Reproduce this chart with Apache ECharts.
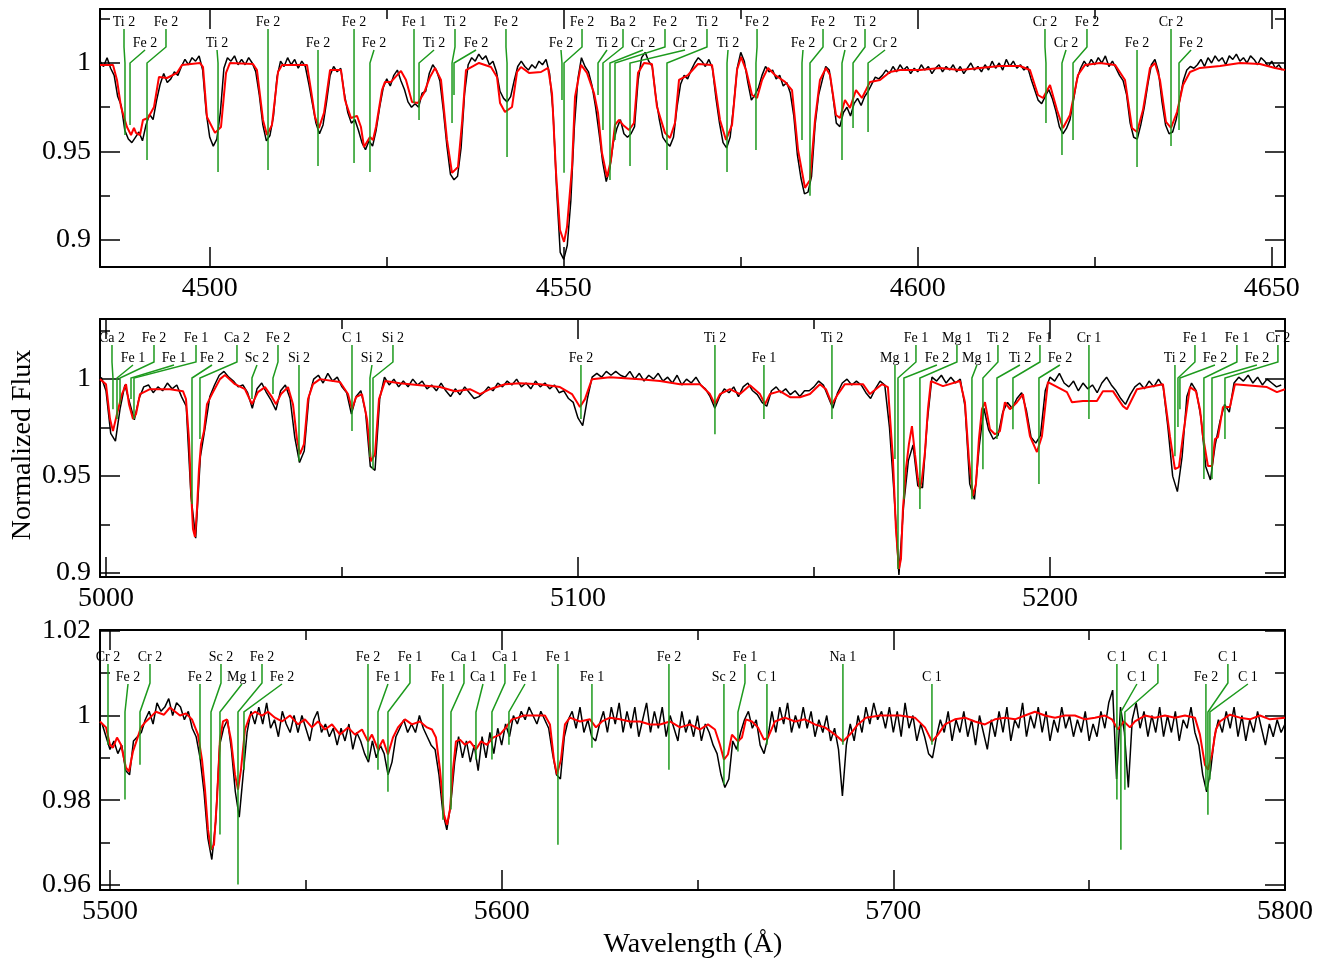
<!DOCTYPE html>
<html><head><meta charset="utf-8">
<script src="https://cdn.jsdelivr.net/npm/echarts@6/dist/echarts.min.js"></script>
<style>html,body{margin:0;padding:0;background:#fff}#chart{width:1329px;height:963px}</style>
</head><body><div id="chart"></div>
<script>
// ---------------- DATA ----------------
const xTitle = 'Wavelength (Å)';
const yTitle = 'Normalized Flux';
const panelWlRange = [[4484.5, 4651.87], [4998.73, 5249.8], [5497.45, 5800]];
const panelFluxRange = [[0.8847, 1.0305], [0.898, 1.031], [0.9588, 1.0202]];

// observed spectra on uniform wavelength grids
const p1ObsStart = 4484.5, p1ObsStep = 0.5;
const p1Obs = [
1.001,0.998,1.003,0.997,0.993,0.981,0.976,0.962,0.957,0.955,
0.958,0.961,0.956,0.965,0.971,0.968,0.979,0.988,0.994,0.989,
0.991,0.995,0.993,0.998,1.002,0.999,1.003,1.001,1.004,0.996,
0.972,0.958,0.953,0.957,0.972,0.997,1.003,1.001,1.004,0.999,
1.002,0.999,1.003,1.000,0.995,0.982,0.965,0.956,0.959,0.970,
0.992,1.001,0.998,1.003,0.999,1.002,0.997,1.001,0.998,0.988,
0.977,0.966,0.960,0.965,0.978,0.993,0.998,0.995,0.997,0.983,
0.972,0.966,0.968,0.962,0.955,0.951,0.956,0.953,0.962,0.975,
0.986,0.991,0.987,0.993,0.996,0.990,0.985,0.978,0.975,0.977,
0.975,0.983,0.984,0.994,0.999,0.996,0.990,0.973,0.953,0.937,
0.934,0.936,0.952,0.983,0.999,1.003,1.001,1.005,1.002,1.004,
0.999,1.001,0.995,0.984,0.980,0.978,0.981,0.990,0.998,1.001,
0.998,0.996,0.999,0.997,1.001,0.999,1.002,0.994,0.972,0.928,
0.893,0.889,0.897,0.922,0.964,0.991,1.003,0.998,0.995,0.987,
0.975,0.960,0.944,0.933,0.940,0.955,0.963,0.968,0.960,0.958,
0.960,0.964,0.990,1.003,1.006,1.001,0.998,0.981,0.968,0.958,
0.955,0.953,0.958,0.975,0.988,0.993,0.991,0.996,1.000,1.003,
1.001,0.998,1.002,0.997,0.980,0.966,0.955,0.952,0.958,0.976,
0.997,1.006,1.001,0.989,0.979,0.982,0.986,0.993,0.998,0.995,
0.996,0.991,0.993,0.987,0.989,0.983,0.970,0.948,0.935,0.926,
0.927,0.936,0.965,0.982,0.990,0.998,0.996,0.982,0.966,0.964,
0.972,0.975,0.970,0.977,0.980,0.976,0.981,0.984,0.988,0.992,
0.991,0.993,0.996,0.994,0.998,0.995,0.999,0.996,0.998,0.994,
0.997,0.995,0.999,0.996,0.998,0.994,0.997,0.999,0.995,0.998,
0.996,0.999,0.995,0.998,0.994,0.997,1.000,0.996,0.998,0.995,
0.999,0.996,1.001,0.997,1.000,0.996,1.002,0.998,1.001,0.997,
0.999,0.996,0.998,0.991,0.985,0.979,0.977,0.981,0.985,0.980,
0.973,0.964,0.960,0.963,0.968,0.979,0.991,0.997,1.001,0.998,
1.002,0.999,1.003,1.000,1.004,0.998,1.001,0.997,0.993,0.990,
0.982,0.966,0.958,0.957,0.965,0.975,0.988,0.999,1.002,0.995,
0.978,0.965,0.960,0.961,0.968,0.979,0.990,0.996,0.998,0.997,
0.999,1.002,0.998,1.003,1.000,1.004,1.001,1.003,0.999,1.004,
1.002,1.005,1.001,1.003,1.000,1.004,1.002,0.999,1.003,1.001,
0.998,1.001,0.997,0.999,0.996
];
const p2ObsStart = 4999, p2ObsStep = 1;
const p2Obs = [
1.001,0.994,0.972,0.968,0.985,0.997,0.988,0.979,0.990,0.996,
0.997,0.993,0.996,0.994,0.998,0.995,0.997,0.991,0.986,0.940,
0.918,0.960,0.975,0.991,0.997,1.002,1.004,1.001,0.999,0.996,
0.997,0.993,0.985,0.995,0.998,0.993,0.989,0.984,0.994,0.997,
0.990,0.970,0.957,0.963,0.991,1.000,1.002,0.998,1.003,0.999,
1.001,0.996,0.993,0.982,0.991,0.994,0.983,0.955,0.953,0.990,
1.001,0.997,1.000,0.996,0.999,0.996,1.000,0.997,0.999,0.995,
0.997,0.994,0.998,0.994,0.991,0.995,0.992,0.996,0.993,0.990,
0.991,0.993,0.996,0.994,0.998,0.996,0.999,0.997,1.000,0.996,
0.998,0.995,0.999,0.996,0.998,0.995,0.997,0.993,0.994,0.990,
0.988,0.980,0.976,0.990,1.001,1.003,1.001,1.004,1.002,1.004,
1.002,1.001,1.004,1.000,1.003,0.999,1.002,1.000,1.003,0.999,
1.001,0.998,1.002,0.997,1.000,0.998,1.001,0.997,0.995,0.991,
0.985,0.991,0.995,0.993,0.996,0.991,0.996,0.998,0.994,0.992,
0.988,0.986,0.994,0.996,0.993,0.995,0.992,0.994,0.991,0.994,
0.994,0.996,0.999,0.997,0.991,0.985,0.993,0.998,1.000,0.997,
0.999,0.997,0.993,0.990,0.995,0.999,0.997,0.975,0.940,0.899,
0.935,0.958,0.966,0.945,0.944,0.978,1.001,0.999,1.002,0.998,
1.001,0.998,1.000,0.986,0.946,0.938,0.965,0.985,0.974,0.969,
0.971,0.983,0.988,0.985,0.990,0.993,0.984,0.970,0.967,0.971,
0.994,1.001,0.999,1.003,0.998,0.996,0.999,0.994,0.998,0.995,
0.997,0.993,0.998,1.001,0.997,0.994,0.990,0.987,0.992,0.996,
0.998,0.995,0.999,0.996,1.000,0.996,0.975,0.950,0.942,0.960,
0.991,0.998,0.994,0.980,0.955,0.948,0.966,0.978,0.987,0.983,
0.998,1.001,0.999,1.002,0.998,1.001,0.997,1.000,0.998,0.996,
0.997
];
const p3ObsStart = 5498, p3ObsStep = 1;
const p3Obs = [
0.998,0.995,0.992,0.994,0.991,0.993,0.987,0.986,0.994,0.995,
0.996,0.999,1.001,0.998,1.003,1.001,1.002,1.004,1.000,1.003,
1.002,0.999,1.001,0.997,0.995,0.990,0.982,0.971,0.966,0.975,
0.993,0.997,0.999,0.992,0.982,0.976,0.986,0.996,1.001,0.998,
1.002,0.998,1.003,0.997,0.999,0.995,1.001,0.998,0.996,1.000,
0.996,1.000,0.997,0.994,0.999,1.001,0.996,0.998,0.995,0.997,
0.993,0.997,0.994,0.998,0.992,0.996,0.994,0.991,0.989,0.994,
0.990,0.993,0.991,0.986,0.989,0.995,0.997,0.999,0.996,0.998,
0.996,1.000,0.997,0.995,0.993,0.992,0.986,0.977,0.973,0.979,
0.989,0.995,0.990,0.994,0.989,0.993,0.987,0.995,0.990,0.996,
0.991,0.997,0.993,0.998,0.995,1.000,0.998,1.001,0.999,1.002,
1.000,0.998,1.001,0.999,0.997,0.991,0.986,0.985,0.995,0.999,
1.001,0.997,1.002,0.996,0.999,0.995,0.994,0.998,1.001,0.996,
1.002,0.998,1.003,0.996,1.001,0.997,1.002,0.995,0.999,1.003,
0.996,1.001,0.997,1.002,0.995,1.000,0.997,0.994,1.001,0.996,
0.999,0.995,1.000,0.994,0.998,0.996,0.993,0.991,0.986,0.983,
0.985,0.994,0.992,0.996,0.999,1.001,0.997,0.999,0.993,0.991,
0.995,1.001,0.996,1.002,0.998,1.003,0.996,1.000,0.997,1.002,
0.997,1.001,0.995,0.999,0.996,1.000,0.994,0.997,0.992,0.981,
0.993,0.998,0.994,1.000,0.996,1.002,0.998,1.003,0.999,1.001,
0.997,1.002,0.996,1.001,0.995,1.003,0.997,1.000,0.994,0.998,
0.995,0.991,0.990,0.995,0.999,0.996,1.001,0.994,0.999,0.996,
1.001,0.995,0.999,0.993,1.000,0.996,0.992,0.999,0.995,1.001,
0.996,1.002,0.994,0.999,0.997,1.003,0.995,1.000,0.997,1.002,
0.996,1.001,0.994,0.999,0.996,1.002,0.997,1.000,0.995,0.999,
0.996,1.001,0.994,0.998,0.995,1.001,0.997,1.003,1.006,0.985,
1.002,0.996,0.983,0.999,1.003,0.997,1.001,0.995,1.000,0.996,
1.002,0.995,1.000,0.996,1.001,0.994,0.999,0.997,1.002,0.996,
0.993,0.986,0.982,0.987,0.995,0.999,0.996,1.001,0.997,1.002,
0.995,1.000,0.994,0.999,0.996,1.001,0.997,0.993,0.998,0.995,
0.999,0.996,0.998
];

// synthetic (model) spectra [wavelength, flux]
const p1Model = [[4484.5,0.9989],[4486.34,0.9989],[4486.9,0.9904],[4487.47,0.9751],[4488.31,0.9638],[4488.88,0.9593],[4489.3,0.9633],[4489.58,0.9605],[4490.15,0.9593],[4490.57,0.9678],[4491.28,0.9689],[4492.13,0.9751],[4492.83,0.9921],[4493.96,0.9915],[4495.38,0.9944],[4496.08,0.9989],[4498.62,1.0],[4499.05,0.9977],[4499.61,0.9695],[4500.74,0.9605],[4501.59,0.9638],[4502.3,0.9944],[4502.86,1.0],[4506.11,0.9994],[4506.67,0.996],[4507.52,0.9678],[4508.09,0.9593],[4508.79,0.965],[4509.64,0.9949],[4510.21,0.9989],[4513.74,0.9989],[4514.3,0.9847],[4514.87,0.9695],[4515.43,0.9633],[4516.14,0.9718],[4516.99,0.996],[4518.54,0.996],[4519.1,0.9791],[4519.95,0.9689],[4520.8,0.9701],[4521.36,0.9638],[4521.79,0.9525],[4522.63,0.9582],[4523.06,0.9565],[4523.48,0.9638],[4524.33,0.9847],[4524.75,0.9893],[4525.6,0.9893],[4527.01,0.9955],[4527.72,0.9904],[4528.57,0.978],[4529.41,0.9774],[4530.26,0.983],[4531.11,0.9921],[4531.82,0.9972],[4532.66,0.9904],[4533.51,0.9565],[4534.22,0.9379],[4535.06,0.9412],[4535.63,0.9661],[4536.19,0.996],[4538.03,1.0],[4539.72,0.9977],[4540.57,0.9921],[4541.0,0.9774],[4541.7,0.9723],[4542.69,0.9751],[4543.4,0.9949],[4543.96,0.9977],[4545.09,0.9944],[4546.79,0.9949],[4547.78,0.9972],[4548.34,0.983],[4548.91,0.9379],[4549.47,0.9056],[4550.04,0.8989],[4550.46,0.9073],[4551.17,0.9412],[4551.59,0.9808],[4552.44,0.9989],[4553.28,0.9944],[4554.27,0.983],[4554.84,0.9718],[4555.4,0.9492],[4556.11,0.9356],[4556.67,0.9452],[4557.24,0.965],[4557.8,0.9678],[4558.37,0.965],[4559.22,0.9621],[4559.92,0.9661],[4560.49,0.9944],[4561.33,1.0],[4562.46,0.9994],[4563.17,0.9751],[4564.3,0.9605],[4565.01,0.9576],[4565.71,0.9661],[4566.28,0.9904],[4567.55,0.9932],[4568.96,0.9994],[4570.94,0.9989],[4572.07,0.9678],[4572.92,0.9565],[4573.77,0.965],[4574.47,0.996],[4575.04,1.0034],[4575.75,0.996],[4576.59,0.9819],[4577.3,0.9802],[4578.01,0.9904],[4578.85,0.9972],[4579.84,0.9932],[4581.25,0.9893],[4582.24,0.9847],[4583.09,0.9508],[4584.07,0.9294],[4584.78,0.9339],[4585.49,0.9678],[4586.19,0.9904],[4587.04,0.9972],[4587.61,0.9932],[4588.45,0.9706],[4589.02,0.9689],[4589.72,0.9791],[4590.43,0.9746],[4591.28,0.9847],[4592.12,0.9802],[4593.26,0.9893],[4594.67,0.9904],[4596.08,0.9949],[4597.49,0.996],[4600.32,0.996],[4603.14,0.9972],[4605.97,0.996],[4608.79,0.9972],[4611.62,0.9983],[4614.44,0.9983],[4615.85,0.996],[4616.98,0.9819],[4617.69,0.9802],[4618.68,0.9876],[4619.67,0.9734],[4620.51,0.9633],[4621.5,0.9706],[4622.63,0.9932],[4623.62,0.9989],[4625.74,1.0],[4627.86,0.9989],[4629.27,0.9904],[4630.26,0.9633],[4630.97,0.961],[4631.81,0.9734],[4632.8,0.9972],[4633.51,1.0],[4634.21,0.9904],[4635.06,0.9667],[4635.77,0.9633],[4636.62,0.9723],[4637.47,0.9876],[4638.45,0.9949],[4639.86,0.9972],[4642.69,0.9983],[4645.51,1.0],[4648.34,0.9994],[4650.46,0.9972],[4651.87,0.996]];
const p2Model = [[4998.73,1.0],[5000.0,0.9974],[5000.85,0.9794],[5001.48,0.9732],[5002.33,0.982],[5003.39,0.9923],[5004.24,0.9974],[5004.87,0.9871],[5005.72,0.9794],[5006.36,0.982],[5007.2,0.9923],[5009.32,0.9948],[5013.56,0.9948],[5016.31,0.9938],[5016.95,0.9897],[5017.58,0.9691],[5018.01,0.9433],[5018.43,0.9227],[5018.86,0.9186],[5019.28,0.933],[5019.7,0.9536],[5020.13,0.9665],[5020.76,0.9732],[5021.4,0.9871],[5022.46,0.9923],[5024.15,1.0],[5025.21,1.0021],[5027.33,0.9974],[5029.45,0.9948],[5030.93,0.9871],[5032.2,0.9933],[5033.69,0.9959],[5035.17,0.9907],[5036.02,0.9871],[5037.08,0.9923],[5038.56,0.9959],[5039.62,0.9871],[5040.47,0.9691],[5041.1,0.9613],[5041.95,0.9665],[5042.8,0.9897],[5043.86,0.9974],[5045.34,1.0],[5049.58,0.9985],[5051.27,0.9923],[5052.12,0.9845],[5052.97,0.9907],[5054.24,0.9923],[5055.3,0.9794],[5056.14,0.9577],[5056.99,0.9613],[5057.84,0.9897],[5059.11,0.999],[5062.29,0.9979],[5066.52,0.9969],[5070.76,0.9959],[5073.94,0.9938],[5077.12,0.9948],[5079.24,0.9923],[5081.35,0.9948],[5084.53,0.9974],[5087.71,0.9979],[5091.95,0.9974],[5096.18,0.9959],[5098.73,0.9923],[5100.42,0.9856],[5101.48,0.9897],[5102.96,1.0],[5106.78,1.001],[5113.13,1.0],[5117.37,0.999],[5121.61,0.9974],[5125.84,0.9974],[5127.96,0.9923],[5129.02,0.9871],[5130.08,0.9923],[5132.2,0.9948],[5134.32,0.9923],[5136.44,0.9969],[5138.56,0.9923],[5139.62,0.9871],[5140.67,0.9923],[5142.79,0.9938],[5144.91,0.9907],[5147.03,0.9907],[5149.15,0.9923],[5151.27,0.9974],[5152.54,0.9948],[5153.81,0.9871],[5155.08,0.9923],[5156.56,0.9974],[5160.38,0.9974],[5161.86,0.9923],[5164.4,0.9974],[5165.67,0.9959],[5166.73,0.9588],[5167.37,0.9227],[5168.0,0.9021],[5168.43,0.9072],[5168.85,0.933],[5169.49,0.9536],[5170.12,0.9665],[5170.76,0.9758],[5171.4,0.9613],[5172.03,0.9485],[5172.45,0.9433],[5172.88,0.9485],[5173.52,0.9624],[5174.15,0.9845],[5174.79,0.999],[5177.33,0.9964],[5180.93,0.999],[5181.99,0.9881],[5182.83,0.9588],[5183.68,0.9397],[5184.32,0.9459],[5184.95,0.9691],[5185.59,0.9845],[5186.23,0.9881],[5187.28,0.9742],[5188.34,0.9716],[5189.4,0.9732],[5190.46,0.9881],[5191.52,0.9845],[5193.0,0.9881],[5194.27,0.9923],[5195.76,0.9706],[5197.24,0.9624],[5198.3,0.9706],[5199.57,0.9985],[5203.6,0.9933],[5204.66,0.9881],[5206.99,0.9887],[5209.95,0.9887],[5211.22,0.9938],[5213.34,0.9938],[5215.46,0.9861],[5216.31,0.9845],[5218.43,0.9948],[5223.94,0.9974],[5225.42,0.9706],[5226.48,0.9536],[5227.33,0.9546],[5228.18,0.9706],[5229.66,0.9959],[5230.93,0.9938],[5231.78,0.9845],[5232.42,0.9706],[5233.48,0.9552],[5234.33,0.9552],[5234.96,0.9691],[5235.59,0.9701],[5236.65,0.9856],[5238.13,0.9856],[5239.19,0.9974],[5245.97,0.9959],[5248.09,0.9933],[5249.79,0.9948]];
const p3Model = [[5497.45,0.9986],[5498.98,0.9972],[5500.0,0.9931],[5500.77,0.9924],[5501.79,0.9948],[5502.81,0.9931],[5504.08,0.9877],[5504.85,0.9868],[5505.87,0.9915],[5506.89,0.9943],[5507.91,0.9972],[5509.19,0.9986],[5510.21,0.9995],[5511.74,1.0009],[5513.79,1.0002],[5515.32,1.0019],[5517.87,1.0],[5519.4,1.0005],[5520.93,0.9991],[5522.47,0.9955],[5523.49,0.9896],[5524.25,0.9825],[5525.02,0.9731],[5525.79,0.9683],[5526.55,0.9695],[5527.32,0.9802],[5528.08,0.9943],[5528.85,0.9986],[5529.87,0.9991],[5530.89,0.9943],[5531.91,0.9861],[5532.68,0.9825],[5533.44,0.9872],[5534.47,0.9967],[5535.74,1.0],[5537.02,1.0009],[5538.81,1.0],[5540.34,1.0009],[5542.12,0.9995],[5543.91,0.9986],[5545.95,1.0],[5548.0,0.9979],[5549.78,0.9991],[5551.57,0.9972],[5553.1,0.9986],[5554.89,0.9967],[5556.68,0.9979],[5558.72,0.9955],[5560.76,0.9972],[5562.55,0.9955],[5564.34,0.9967],[5565.87,0.9939],[5566.89,0.9955],[5568.42,0.992],[5569.7,0.9943],[5570.97,0.9908],[5572.25,0.9948],[5573.53,0.9972],[5575.31,0.9991],[5577.1,0.9979],[5579.14,0.9986],[5580.93,0.9972],[5582.21,0.9967],[5583.23,0.9948],[5584.25,0.9872],[5585.27,0.9766],[5586.04,0.9742],[5586.8,0.9778],[5587.57,0.9872],[5588.33,0.9939],[5589.36,0.9943],[5590.63,0.9931],[5591.91,0.9939],[5593.44,0.992],[5594.72,0.9939],[5596.25,0.9931],[5597.78,0.9948],[5599.57,0.9955],[5601.1,0.9972],[5602.63,0.9991],[5604.16,0.9995],[5605.69,1.0],[5608.5,1.0],[5611.06,1.0],[5612.33,0.9979],[5613.35,0.9896],[5614.12,0.9861],[5615.14,0.9896],[5616.16,0.9979],[5617.44,0.9995],[5619.99,0.9986],[5622.54,0.9991],[5624.08,0.9972],[5625.61,0.9986],[5627.65,0.9995],[5630.2,0.9991],[5632.76,0.9986],[5635.31,0.9986],[5637.86,0.9979],[5640.42,0.9979],[5642.97,0.9986],[5645.52,0.9972],[5648.07,0.9979],[5650.63,0.9967],[5652.67,0.9979],[5654.46,0.9967],[5655.73,0.9931],[5656.75,0.9896],[5657.77,0.9908],[5658.8,0.9955],[5660.33,0.9939],[5661.35,0.9948],[5662.37,0.9991],[5663.9,0.9986],[5665.43,0.9972],[5666.97,0.9943],[5667.99,0.9948],[5669.77,0.9986],[5672.33,0.9995],[5674.88,0.9986],[5677.43,0.9991],[5679.99,0.9979],[5682.54,0.9972],[5685.09,0.9955],[5687.13,0.9939],[5688.92,0.9955],[5690.96,0.9979],[5693.01,0.9995],[5696.58,1.0],[5701.69,1.0],[5705.52,0.9995],[5708.07,0.9972],[5709.86,0.9939],[5711.39,0.9955],[5713.18,0.9979],[5715.73,0.9991],[5718.28,0.9995],[5720.83,0.9986],[5723.39,0.9979],[5725.94,0.9991],[5728.49,0.9995],[5731.05,0.9991],[5733.6,1.0],[5736.15,1.0009],[5738.71,1.0],[5741.26,0.9995],[5743.81,1.0],[5746.36,1.0],[5748.92,0.9991],[5751.47,0.9995],[5754.02,1.0],[5755.81,0.9991],[5757.34,0.9967],[5758.87,0.9986],[5760.41,0.9972],[5761.68,0.9986],[5764.24,1.0],[5766.79,0.9995],[5769.34,1.0],[5771.89,0.9995],[5774.45,1.0],[5777.0,0.9995],[5778.28,0.9955],[5779.55,0.9884],[5780.32,0.9872],[5781.34,0.9908],[5782.36,0.9967],[5783.38,0.9986],[5785.94,1.0002],[5788.49,0.9995],[5791.04,0.9991],[5793.6,1.0],[5796.15,0.9991],[5799.98,0.9995]];

// line identifications: [label, line wavelength, label wavelength, row (0 upper / 1 lower), flux at tick end]
const p1Lines = [
['Ti 2',4488.03,4487.89,0,0.9593],['Fe 2',4488.74,4490.86,1,0.965],['Fe 2',4491.14,4493.82,0,0.9452],
['Ti 2',4501.17,4501.03,1,0.9384],['Fe 2',4508.23,4508.23,0,0.9395],['Fe 2',4515.29,4515.29,1,0.9418],
['Fe 2',4520.38,4520.38,0,0.9435],['Fe 2',4522.63,4523.2,1,0.9384],['Fe 1',4528.85,4528.85,0,0.9774],
['Ti 2',4529.56,4531.68,1,0.9678],['Ti 2',4534.22,4534.64,0,0.9661],['Fe 2',4534.5,4537.61,1,0.9819],
['Fe 2',4541.99,4541.84,0,0.9469],['Fe 2',4549.75,4549.61,1,0.9791],['Fe 2',4550.04,4552.58,0,0.9379],
['Ti 2',4554.84,4556.11,1,0.9819],['Ba 2',4555.54,4558.37,0,0.9621],['Cr 2',4556.53,4561.19,1,0.9339],
['Fe 2',4557.24,4564.3,0,0.9565],['Cr 2',4559.36,4567.13,1,0.9418],['Ti 2',4564.58,4570.23,0,0.9395],
['Ti 2',4573.06,4573.2,1,0.9384],['Fe 2',4577.15,4577.3,0,0.9508],['Fe 2',4583.65,4583.79,1,0.9565],
['Fe 2',4584.78,4586.62,0,0.9249],['Cr 2',4589.3,4589.72,1,0.9452],['Ti 2',4590.86,4592.55,0,0.9633],
['Cr 2',4592.98,4595.38,1,0.961],['Cr 2',4618.11,4617.97,0,0.9661],['Cr 2',4620.37,4620.94,1,0.948],
['Fe 2',4621.93,4623.9,0,0.9565],['Fe 2',4630.97,4630.97,1,0.9412],['Cr 2',4635.77,4635.77,0,0.9531],
['Fe 2',4636.9,4638.6,1,0.9621]
];
const p2Lines = [
['Ca 2',5001.48,5001.27,0,0.9845],['Fe 1',5002.33,5005.72,1,0.9794],['Fe 2',5002.97,5010.17,0,0.9871],
['Fe 1',5005.3,5014.41,1,0.9897],['Fe 1',5005.93,5019.07,0,0.9794],['Fe 2',5018.22,5022.46,1,0.9356],
['Ca 2',5019.91,5027.75,0,0.9691],['Sc 2',5030.93,5031.99,1,0.9897],['Fe 2',5035.38,5036.44,0,0.9923],
['Si 2',5040.89,5040.89,1,0.9577],['C 1',5052.12,5052.12,0,0.9732],['Si 2',5055.93,5056.35,1,0.9598],
['Si 2',5056.57,5060.8,0,0.9536],['Fe 2',5100.63,5100.63,1,0.9794],['Ti 2',5129.02,5129.02,0,0.9716],
['Fe 1',5139.4,5139.4,1,0.9794],['Ti 2',5153.81,5153.81,0,0.9794],['Mg 1',5167.16,5167.16,1,0.9588],
['Fe 1',5167.8,5171.61,0,0.9021],['Fe 2',5169.06,5176.05,1,0.9381],['Mg 1',5172.45,5180.29,0,0.933],
['Mg 1',5183.47,5184.53,1,0.9381],['Ti 2',5185.8,5188.98,0,0.9536],['Ti 2',5188.77,5193.64,1,0.9691],
['Fe 1',5192.16,5197.88,0,0.9742],['Fe 2',5197.67,5202.11,1,0.9459],['Cr 1',5208.26,5208.26,0,0.9794],
['Ti 2',5226.48,5226.48,1,0.9603],['Fe 1',5227.12,5230.72,0,0.9753],['Fe 2',5227.54,5234.96,1,0.9845],
['Fe 1',5232.62,5239.61,0,0.9485],['Fe 2',5234.33,5243.85,1,0.9485],['Cr 2',5237.08,5248.3,0,0.9691]
];
const p3Lines = [
['Cr 2',5499.49,5499.49,0,0.9931],['Fe 2',5503.83,5504.6,1,0.9802],['Cr 2',5507.66,5510.21,0,0.9884],
['Fe 2',5522.98,5522.98,1,0.9896],['Sc 2',5525.79,5528.34,0,0.9683],['Mg 1',5528.08,5533.7,1,0.9719],
['Fe 2',5532.68,5538.81,0,0.9601],['Fe 2',5534.21,5543.91,1,0.9872],['Fe 2',5565.87,5565.87,0,0.9896],
['Fe 1',5568.42,5570.97,1,0.9872],['Fe 1',5570.97,5576.59,0,0.982],['Fe 1',5585.01,5585.01,1,0.9754],
['Ca 1',5587.06,5590.38,0,0.9778],['Ca 1',5593.44,5595.23,1,0.9896],['Ca 1',5597.52,5600.84,0,0.9896],
['Fe 1',5601.86,5605.95,1,0.9931],['Fe 1',5614.37,5614.37,0,0.9695],['Fe 1',5623.05,5623.05,1,0.9924],
['Fe 2',5642.71,5642.71,0,0.9872],['Sc 2',5656.75,5656.75,1,0.9837],['Fe 1',5660.33,5662.12,0,0.9915],
['C 1',5667.73,5667.73,1,0.9931],['Na 1',5687.13,5687.13,0,0.9931],['C 1',5709.86,5709.86,1,0.9931],
['C 1',5757.08,5757.08,0,0.9802],['C 1',5758.1,5762.19,1,0.9683],['C 1',5759.12,5767.55,0,0.9825],
['Fe 2',5779.81,5779.81,1,0.9825],['C 1',5780.32,5785.42,0,0.9766],['C 1',5780.83,5790.53,1,0.9849]
];

// ---------------- LAYOUT / STYLE ----------------
const FONT = '"Liberation Serif", "Times New Roman", serif';
const grids = [
  {left:100, top:9, width:1185, height:258},
  {left:100, top:319, width:1185, height:258},
  {left:100, top:630, width:1185, height:260}
];
const xSplit = [4,3,3], ySplit = [3,3,3];
const markerLayout = [
  {lab:[13,34], stub:[20,41], kink:38, diag:54},
  {lab:[19,39], stub:[26,46], kink:43, diag:59},
  {lab:[27,47], stub:[34,54], kink:53, diag:82}
];
const GREEN = '#1d9a1d';

const obsSets = [[p1Obs,p1ObsStart,p1ObsStep],[p2Obs,p2ObsStart,p2ObsStep],[p3Obs,p3ObsStart,p3ObsStep]];
const modelSets = [p1Model, p2Model, p3Model];
const lineSets = [p1Lines, p2Lines, p3Lines];

const chart = echarts.init(document.getElementById('chart'), null, {renderer:'canvas'});
const xAxes = [], yAxes = [], series = [];
const tickStyle = {color:'#000', width:1.5};

for (let p = 0; p < 3; p++) {
  const xb = {
    type:'value', gridIndex:p, min:panelWlRange[p][0], max:panelWlRange[p][1], splitNumber:xSplit[p],
    axisLine:{show:true, onZero:false, lineStyle:{color:'#000', width:2}},
    axisTick:{show:true, inside:true, length:20, lineStyle:tickStyle},
    minorTick:{show:true, splitNumber:2, length:10, lineStyle:tickStyle},
    splitLine:{show:false}, minorSplitLine:{show:false}
  };
  xAxes.push(Object.assign({}, xb, {position:'bottom',
    axisLabel:{show:true, color:'#000', fontFamily:FONT, fontSize:28, margin:8,
      showMinLabel:false, showMaxLabel:(p === 2),
      formatter: v => String(Math.round(v))}}));
  xAxes.push(Object.assign({}, xb, {position:'top', axisLabel:{show:false}}));
  const yb = {
    type:'value', gridIndex:p, min:panelFluxRange[p][0], max:panelFluxRange[p][1], splitNumber:ySplit[p],
    axisLine:{show:true, onZero:false, lineStyle:{color:'#000', width:2}},
    axisTick:{show:true, inside:true, length:20, lineStyle:tickStyle},
    minorTick:{show:true, splitNumber:2, length:10, lineStyle:tickStyle},
    splitLine:{show:false}, minorSplitLine:{show:false}
  };
  yAxes.push(Object.assign({}, yb, {position:'left',
    axisLabel:{show:true, color:'#000', fontFamily:FONT, fontSize:28, margin:9,
      showMinLabel:false, showMaxLabel:false,
      formatter: v => String(+(+v).toFixed(3))}}));
  yAxes.push(Object.assign({}, yb, {position:'right', axisLabel:{show:false}}));

  const [vals, st, sp] = obsSets[p];
  series.push({
    type:'line', xAxisIndex:2*p, yAxisIndex:2*p, data: vals.map((v,i) => [st + i*sp, v]),
    symbol:'none', showSymbol:false, clip:true, z:2, silent:true,
    lineStyle:{color:'#000', width:1.5}
  });
  series.push({
    type:'line', xAxisIndex:2*p, yAxisIndex:2*p, data: modelSets[p],
    symbol:'none', showSymbol:false, clip:true, z:3, silent:true,
    lineStyle:{color:'#ff0000', width:2}
  });
  const L = markerLayout[p], top = grids[p].top, lines = lineSets[p];
  series.push({
    type:'custom', xAxisIndex:2*p, yAxisIndex:2*p, z:4, clip:false, silent:true,
    data: lines.map(r => [r[1], r[2], r[3], r[4]]),
    encode:{x:[0,1], y:3},
    renderItem: function(params, api) {
      const rec = lines[params.dataIndex];
      const pE = api.coord([api.value(0), api.value(3)]);
      const pL = api.coord([api.value(1), api.value(3)]);
      const row = api.value(2);
      const ly = top + L.lab[row];
      const s = top + L.stub[row];
      const k = row === 0 ? top + L.kink : s;
      const d = top + L.diag;
      return {type:'group', children:[
        {type:'polyline', shape:{points:[[pL[0], s],[pL[0], k],[pE[0], d],[pE[0], pE[1]]]},
         style:{stroke:GREEN, lineWidth:1.5, fill:null}},
        {type:'text', style:{text:rec[0], x:pL[0], y:ly, align:'center', verticalAlign:'middle',
         font:'14px ' + FONT, fill:'#000'}}
      ]};
    }
  });
}

chart.setOption({
  animation:false,
  backgroundColor:'#fff',
  grid: grids,
  xAxis: xAxes,
  yAxis: yAxes,
  series: series,
  graphic: [
    {type:'text', x:23, y:445, rotation:Math.PI/2,
     style:{text:yTitle, font:'28px ' + FONT, fill:'#000', align:'center', verticalAlign:'middle'}},
    {type:'text', x:693, y:945,
     style:{text:xTitle, font:'28px ' + FONT, fill:'#000', align:'center', verticalAlign:'middle'}}
  ]
});
</script>
</body></html>
